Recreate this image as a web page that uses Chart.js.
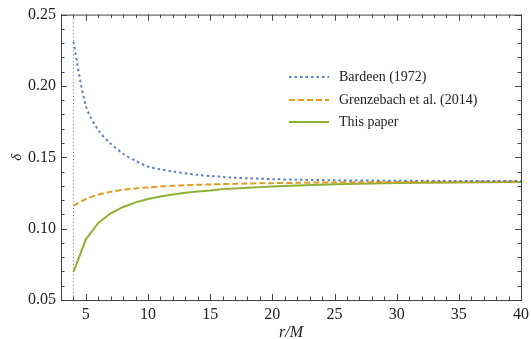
<!DOCTYPE html>
<html>
<head>
<meta charset="utf-8">
<script src="https://cdn.jsdelivr.net/npm/chart.js@4/dist/chart.umd.min.js"></script>
<style>
    html, body { margin: 0; padding: 0; background: #fff; }
    #wrap { width: 531px; height: 339px; }
</style>
</head>
<body>
<div id="wrap"><canvas id="chart"></canvas></div>
<script>
// data
const radii = [4, 5, 6, 7, 8, 9, 10, 11, 12, 13, 14, 15, 16, 17, 18, 19, 20, 22, 25, 30, 35, 40];
const bardeen = [0.2310, 0.1860, 0.1690, 0.1595, 0.1525, 0.1475, 0.1435, 0.1415, 0.1400, 0.1388, 0.1377, 0.1369,
    0.1362, 0.1357, 0.1353, 0.1350, 0.1347, 0.1343, 0.1339, 0.1336, 0.1334, 0.1333];
const grenzebach = [0.1160, 0.1208, 0.1238, 0.1258, 0.1272, 0.1282, 0.1289, 0.1295, 0.1300, 0.1304, 0.1307, 0.1310,
    0.1312, 0.1314, 0.1316, 0.1318, 0.1319, 0.1321, 0.1324, 0.1327, 0.1329, 0.1331];
const thisPaper = [0.0695, 0.0925, 0.1040, 0.1108, 0.1152, 0.1184, 0.1208, 0.1226, 0.1240, 0.1251, 0.1260, 0.1267,
    0.1277, 0.1282, 0.1287, 0.1291, 0.1295, 0.1303, 0.1312, 0.1320, 0.1324, 0.1327];
const horizonX = [4, 4];
const horizonY = [0.05, 0.25];

const seriesNames = ['Bardeen (1972)', 'Grenzebach et al. (2014)', 'This paper'];
const xTicks = [5, 10, 15, 20, 25, 30, 35, 40];
const yTicks = [0.05, 0.10, 0.15, 0.20, 0.25];

const pts = (xs, ys) => xs.map((x, i) => ({ x: x, y: ys[i] }));
const serif = "'Liberation Serif', 'DejaVu Serif', serif";

// Frame with inward ticks on all sides, plus the in-plot legend
const framePlugin = {
    id: 'frame',
    afterDraw(chart) {
        const ctx = chart.ctx;
        const a = chart.chartArea;
        const xs = chart.scales.x, ys = chart.scales.y;
        ctx.save();
        ctx.strokeStyle = '#444';
        ctx.lineWidth = 1;
        ctx.strokeRect(a.left + 0.5, a.top + 0.5, a.right - a.left, a.bottom - a.top);
        ctx.beginPath();
        for (let v = 3; v <= 40; v++) {
            const px = Math.round(xs.getPixelForValue(v)) + 0.5;
            const len = v % 5 === 0 ? 6 : 3.5;
            ctx.moveTo(px, a.bottom); ctx.lineTo(px, a.bottom - len);
            ctx.moveTo(px, a.top); ctx.lineTo(px, a.top + len);
        }
        for (let k = 5; k <= 25; k++) {
            const py = Math.round(ys.getPixelForValue(k / 100)) + 0.5;
            const len = k % 5 === 0 ? 6 : 3.5;
            ctx.moveTo(a.left, py); ctx.lineTo(a.left + len, py);
            ctx.moveTo(a.right, py); ctx.lineTo(a.right - len, py);
        }
        ctx.stroke();

        // legend
        const rows = [77, 100, 122];
        ctx.font = '14px ' + serif;
        ctx.textBaseline = 'middle';
        ctx.fillStyle = '#222';
        chart.data.datasets.slice(0, 3).forEach((ds, i) => {
            ctx.beginPath();
            ctx.strokeStyle = ds.borderColor;
            ctx.lineWidth = ds.borderWidth;
            ctx.setLineDash(ds.borderDash || []);
            ctx.moveTo(289, rows[i]);
            ctx.lineTo(329, rows[i]);
            ctx.stroke();
            ctx.setLineDash([]);
            ctx.fillText(ds.label, 339, rows[i]);
        });
        ctx.restore();
    }
};

new Chart(document.getElementById('chart'), {
    type: 'line',
    data: {
        datasets: [
            {
                label: seriesNames[0],
                data: pts(radii, bardeen),
                borderColor: '#5e81b5',
                borderWidth: 2,
                borderDash: [2.5, 3],
                pointRadius: 0,
                tension: 0.3
            },
            {
                label: seriesNames[1],
                data: pts(radii, grenzebach),
                borderColor: '#e19c24',
                borderWidth: 2,
                borderDash: [6, 3],
                pointRadius: 0,
                tension: 0.3
            },
            {
                label: seriesNames[2],
                data: pts(radii, thisPaper),
                borderColor: '#8fb032',
                borderWidth: 2,
                pointRadius: 0,
                tension: 0
            },
            {
                label: 'horizon',
                data: pts(horizonX, horizonY),
                borderColor: '#777',
                borderWidth: 1,
                borderDash: [1, 2.5],
                pointRadius: 0
            }
        ]
    },
    options: {
        responsive: true,
        maintainAspectRatio: false,
        animation: false,
        layout: { padding: { top: 14, right: 10, left: 8, bottom: 0 } },
        plugins: { legend: { display: false }, tooltip: { enabled: false } },
        scales: {
            x: {
                type: 'linear',
                min: 3,
                max: 40,
                afterBuildTicks: (scale) => { scale.ticks = xTicks.map(v => ({ value: v })); },
                afterFit: (scale) => {
                    scale.height = 39;
                    scale.paddingLeft = 0;
                    scale.paddingRight = 0;
                },
                grid: { display: false, drawTicks: false },
                border: { display: false },
                ticks: { color: '#222', padding: 5, font: { family: serif, size: 16 } },
                title: {
                    display: true,
                    text: 'r/M',
                    color: '#222',
                    padding: { top: 0, bottom: -2 },
                    font: { family: serif, size: 16, style: 'italic', lineHeight: 1 }
                }
            },
            y: {
                min: 0.05,
                max: 0.25,
                afterBuildTicks: (scale) => { scale.ticks = yTicks.map(v => ({ value: v })); },
                afterFit: (scale) => { scale.width = 53; },
                grid: { display: false, drawTicks: false },
                border: { display: false },
                ticks: {
                    color: '#222',
                    padding: 5,
                    font: { family: serif, size: 16 },
                    callback: (v) => v.toFixed(2)
                },
                title: {
                    display: true,
                    text: 'δ',
                    color: '#222',
                    padding: { top: 0, bottom: 0 },
                    font: { family: serif, size: 15, style: 'italic' }
                }
            }
        }
    },
    plugins: [framePlugin]
});
</script>
</body>
</html>
